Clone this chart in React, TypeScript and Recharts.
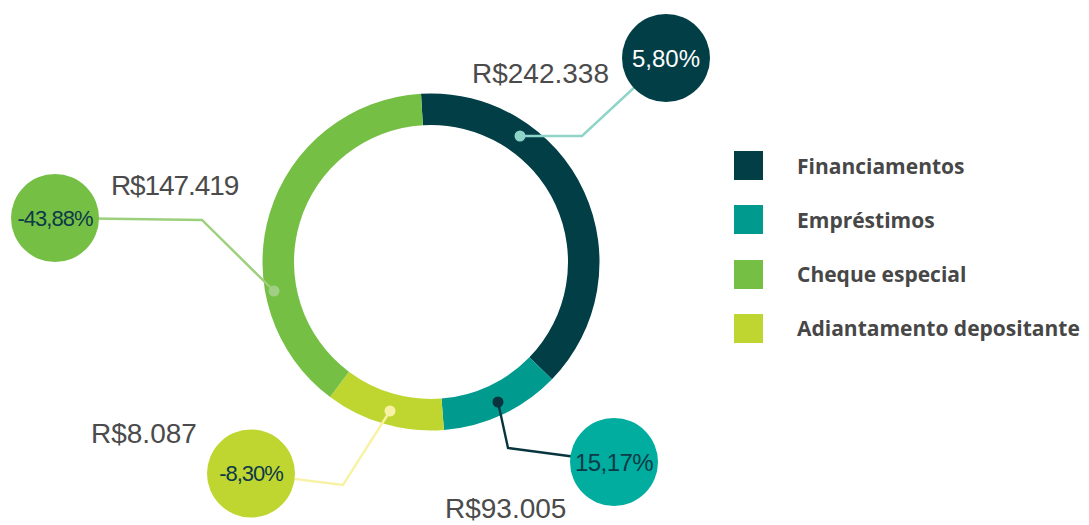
import { PieChart, Pie, Cell, Legend } from 'recharts'

// ring order, clockwise from the top
const categories = ['Financiamentos', 'Empréstimos', 'Adiantamento depositante', 'Cheque especial']
const amounts = ['R$242.338', 'R$93.005', 'R$8.087', 'R$147.419']
const changes = ['5,80%', '15,17%', '-8,30%', '-43,88%']
// share of the ring as drawn in the picture (degrees)
const shares = [137.5, 41.5, 41.2, 139.8]
const legendOrder = [0, 1, 3, 2]

const colors = ['#013e46', '#009b8e', '#bfd630', '#76bf45']
const bubbleColors = ['#013e46', '#00ad9f', '#bfd630', '#76bf45']
const bubbleText = ['#ffffff', '#0c3a48', '#0c3a48', '#0c3a48']
const leaderColors = ['#8ed4c9', '#07343e', '#f7f2a4', '#9dd07c']
const dotColors = ['#8ed4c9', '#07343e', '#f7f2a6', '#9fce84']

// annotation layout: dot, elbow, bubble centre, amount text position
const layout = [
  { dot: [520, 136], elbow: [582, 136], bubble: [666, 58], text: [472, 83], pctSize: 24, pctLs: 0, amtLs: 0 },
  { dot: [498, 402], elbow: [508, 448], bubble: [614, 462], text: [445, 518], pctSize: 24, pctLs: -0.6, amtLs: 0 },
  { dot: [390, 411], elbow: [343, 485], bubble: [251, 473.5], text: [91, 443], pctSize: 22, pctLs: -1, amtLs: 0 },
  { dot: [274, 291], elbow: [202, 220], bubble: [55, 218], text: [111, 195], pctSize: 22, pctLs: -1, amtLs: -1.1 },
]

const data = categories.map((name, i) => ({ name, value: shares[i] }))

const renderAnnotation = (props: any) => {
  const i = props.index
  const l = layout[i]
  const [dx, dy] = l.dot
  const [ex, ey] = l.elbow
  const [bx, by] = l.bubble
  return (
    <g key={`ann-${i}`}>
      <polyline
        points={`${dx},${dy} ${ex},${ey} ${bx},${by}`}
        fill="none"
        stroke={leaderColors[i]}
        strokeWidth={2.4}
      />
      <circle cx={dx} cy={dy} r={5.5} fill={dotColors[i]} />
      <circle cx={bx} cy={by} r={44} fill={bubbleColors[i]} />
      <text
        x={bx}
        y={by}
        textAnchor="middle"
        dominantBaseline="central"
        fill={bubbleText[i]}
        fontSize={l.pctSize}
        letterSpacing={l.pctLs}
        fontFamily="'Liberation Sans', Arial, sans-serif"
      >
        {changes[i]}
      </text>
      <text
        x={l.text[0]}
        y={l.text[1]}
        fill="#4b4b4b"
        fontSize={28}
        letterSpacing={l.amtLs}
        fontFamily="'Liberation Sans', Arial, sans-serif"
      >
        {amounts[i]}
      </text>
    </g>
  )
}

const LegendContent = () => (
  <div style={{ position: 'relative', width: 355, height: 200 }}>
    {legendOrder.map((idx, row) => (
      <div
        key={categories[idx]}
        style={{ position: 'absolute', left: 0, top: row * 54.3, height: 29, display: 'flex', alignItems: 'center' }}
      >
        <div style={{ width: 29, height: 29, background: colors[idx] }} />
        <span
          style={{
            marginLeft: 34,
            fontFamily: "'Open Sans', sans-serif",
            fontWeight: 700,
            fontSize: 21,
            color: '#474747',
            whiteSpace: 'nowrap',
          }}
        >
          {categories[idx]}
        </span>
      </div>
    ))}
  </div>
)

export default function App() {
  return (
    <div style={{ position: 'absolute', left: 0, top: 0, width: 1089, height: 525, background: '#fff' }}>
      <PieChart width={1089} height={525} margin={{ top: 0, right: 0, bottom: 0, left: 0 }}>
        <Pie
          data={data}
          dataKey="value"
          nameKey="name"
          cx={431}
          cy={262}
          innerRadius={137}
          outerRadius={168.5}
          startAngle={93.4}
          endAngle={-266.6}
          stroke="none"
          label={renderAnnotation}
          labelLine={false}
          isAnimationActive={false}
        >
          {data.map((d, i) => (
            <Cell key={d.name} fill={colors[i]} />
          ))}
        </Pie>
        <Legend
          layout="vertical"
          align="right"
          verticalAlign="top"
          content={<LegendContent />}
          wrapperStyle={{ position: 'absolute', left: 734, top: 151, width: 355 }}
        />
      </PieChart>
    </div>
  )
}
